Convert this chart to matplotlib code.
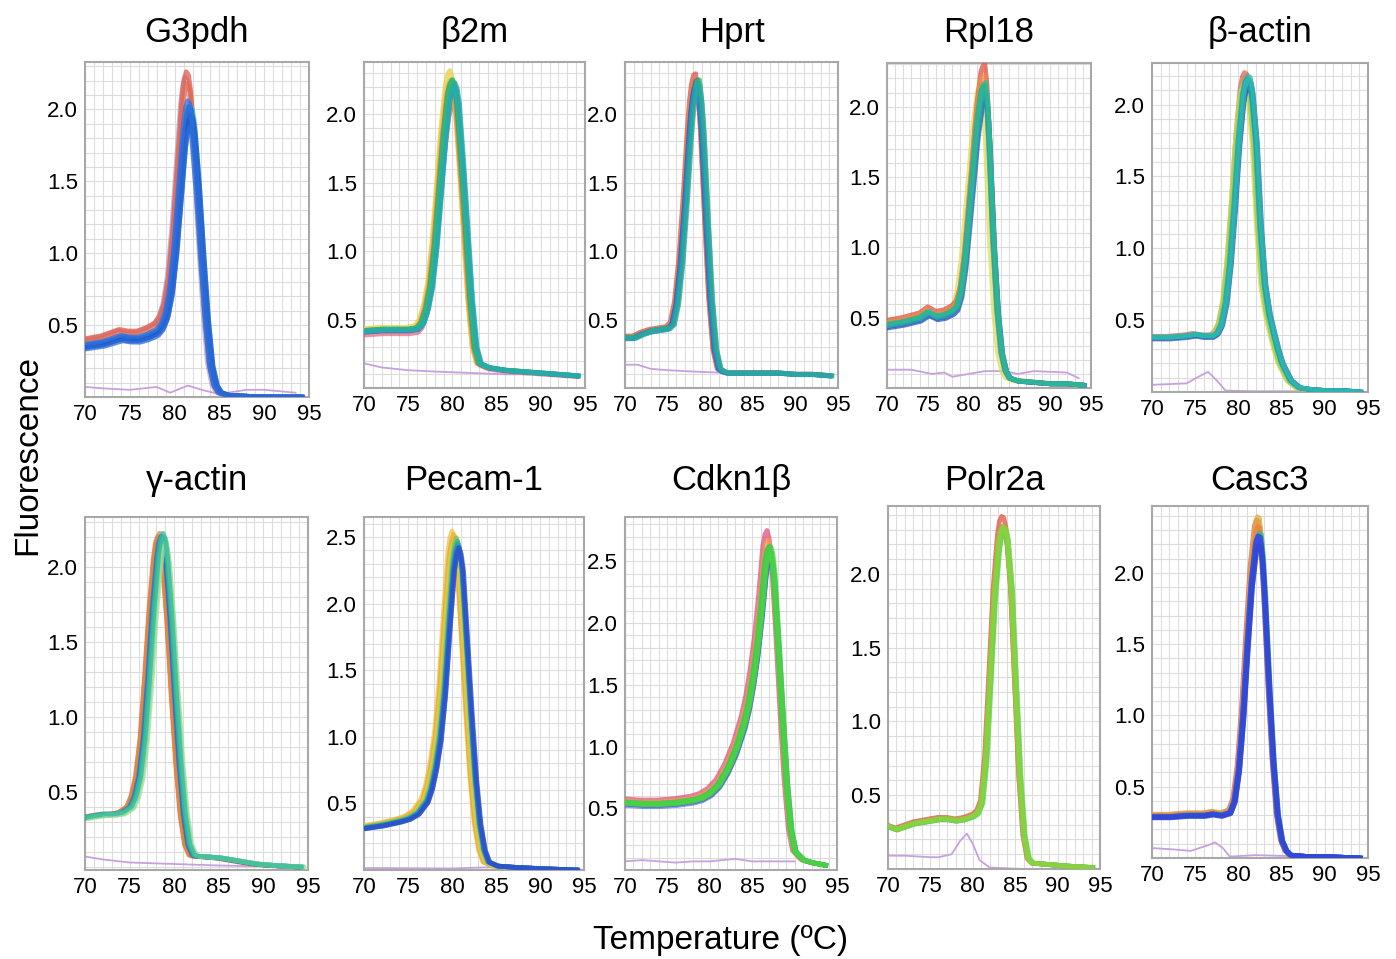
import matplotlib
matplotlib.use("Agg")
import matplotlib.pyplot as plt
import numpy as np

plt.rcParams['font.family'] = ['Liberation Sans', 'DejaVu Sans']

W, H = 1396, 959

genes = ["G3pdh", "β2m", "Hprt", "Rpl18", "β-actin",
         "γ-actin", "Pecam-1", "Cdkn1β", "Polr2a", "Casc3"]

# typical melt curve of each assay (temperature, -dF/dT)
g3pdh_t = [70, 71, 72, 73, 74, 75, 76, 77, 78, 78.5, 79, 79.5, 80, 80.5, 81, 81.25, 81.5, 81.75, 82, 82.5, 83, 83.5, 84, 84.5, 85, 86, 88, 90, 92, 94]
g3pdh_f = [0.36, 0.37, 0.38, 0.40, 0.42, 0.41, 0.41, 0.43, 0.46, 0.50, 0.58, 0.75, 1.05, 1.45, 1.85, 1.97, 2.02, 2.00, 1.90, 1.50, 1.00, 0.55, 0.22, 0.08, 0.03, 0.01, 0.005, 0.0, 0.0, 0.0]
b2m_t = [70, 72, 74, 75, 76, 76.5, 77, 77.5, 78, 78.5, 79, 79.5, 79.75, 80, 80.25, 80.5, 81, 81.5, 82, 82.5, 83, 84, 86, 88, 90, 92, 94]
b2m_f = [0.42, 0.43, 0.43, 0.43, 0.44, 0.48, 0.58, 0.75, 1.05, 1.45, 1.85, 2.15, 2.22, 2.25, 2.21, 2.10, 1.65, 1.15, 0.65, 0.30, 0.18, 0.15, 0.13, 0.12, 0.11, 0.10, 0.09]
hprt_t = [70, 71, 72, 73, 74, 75, 75.5, 76, 76.5, 77, 77.5, 77.75, 78, 78.25, 78.5, 78.75, 79, 79.5, 80, 80.5, 81, 81.5, 82, 84, 86, 88, 90, 92, 94]
hprt_f = [0.37, 0.37, 0.40, 0.42, 0.43, 0.44, 0.47, 0.62, 0.92, 1.35, 1.85, 2.05, 2.18, 2.24, 2.25, 2.12, 1.90, 1.25, 0.65, 0.28, 0.14, 0.12, 0.11, 0.11, 0.11, 0.11, 0.10, 0.10, 0.09]
rpl18_t = [70, 72, 74, 75, 76, 77, 78, 78.5, 79, 79.5, 80, 80.5, 81, 81.5, 81.75, 82, 82.25, 82.5, 83, 83.5, 84, 84.5, 85, 86, 88, 90, 92, 94]
rpl18_f = [0.45, 0.47, 0.50, 0.54, 0.51, 0.52, 0.55, 0.58, 0.68, 0.90, 1.22, 1.55, 1.88, 2.10, 2.14, 2.15, 2.02, 1.75, 1.05, 0.55, 0.25, 0.12, 0.07, 0.05, 0.04, 0.03, 0.03, 0.02]
bact_t = [70, 72, 74, 75, 76, 77, 77.5, 78, 78.5, 79, 79.5, 80, 80.5, 80.75, 81, 81.25, 81.5, 82, 82.5, 83, 83.5, 84, 84.5, 85, 86, 87, 88, 90, 92, 94]
bact_f = [0.38, 0.38, 0.39, 0.40, 0.39, 0.39, 0.41, 0.47, 0.62, 0.90, 1.30, 1.75, 2.07, 2.15, 2.18, 2.17, 2.10, 1.75, 1.15, 0.75, 0.55, 0.42, 0.30, 0.20, 0.08, 0.03, 0.02, 0.01, 0.01, 0.0]
gact_t = [70, 72, 73, 74, 75, 75.5, 76, 76.5, 77, 77.5, 78, 78.25, 78.5, 78.75, 79, 79.5, 80, 80.5, 81, 81.5, 82, 82.5, 83, 85, 87, 89, 91, 94]
gact_f = [0.33, 0.35, 0.35, 0.36, 0.40, 0.47, 0.60, 0.85, 1.25, 1.70, 2.05, 2.16, 2.20, 2.16, 2.05, 1.65, 1.15, 0.70, 0.35, 0.15, 0.08, 0.07, 0.07, 0.06, 0.04, 0.02, 0.01, 0.0]
pecam_t = [70, 72, 74, 75, 76, 77, 77.5, 78, 78.5, 79, 79.5, 80, 80.25, 80.5, 80.75, 81, 81.5, 82, 82.5, 83, 83.5, 84, 85, 87, 90, 94]
pecam_f = [0.32, 0.34, 0.37, 0.39, 0.43, 0.52, 0.62, 0.78, 1.00, 1.35, 1.85, 2.30, 2.42, 2.47, 2.42, 2.30, 1.75, 1.20, 0.70, 0.35, 0.15, 0.06, 0.03, 0.02, 0.01, 0.0]
cdkn_t = [70, 72, 74, 76, 78, 79, 80, 81, 82, 83, 84, 84.5, 85, 85.5, 86, 86.5, 86.75, 87, 87.25, 87.5, 88, 88.5, 89, 89.5, 90, 91, 92, 93.5]
cdkn_f = [0.55, 0.54, 0.54, 0.55, 0.57, 0.59, 0.63, 0.70, 0.82, 0.98, 1.20, 1.35, 1.55, 1.80, 2.12, 2.50, 2.59, 2.62, 2.56, 2.40, 1.85, 1.25, 0.70, 0.32, 0.15, 0.08, 0.06, 0.04]
polr_t = [70, 71, 72, 73, 74, 75, 76, 77, 78, 79, 80, 80.5, 81, 81.5, 82, 82.5, 83, 83.25, 83.5, 83.75, 84, 84.5, 85, 85.5, 86, 86.5, 87, 89, 91, 94]
polr_f = [0.29, 0.27, 0.29, 0.31, 0.32, 0.33, 0.34, 0.34, 0.33, 0.34, 0.36, 0.38, 0.45, 0.75, 1.30, 1.85, 2.20, 2.29, 2.32, 2.31, 2.25, 1.90, 1.25, 0.62, 0.22, 0.07, 0.04, 0.03, 0.02, 0.01]
casc_t = [70, 72, 74, 76, 77, 78, 79, 79.5, 80, 80.5, 81, 81.5, 82, 82.25, 82.5, 82.75, 83, 83.5, 84, 84.5, 85, 85.5, 86, 88, 90, 94]
casc_f = [0.29, 0.29, 0.30, 0.30, 0.31, 0.30, 0.32, 0.40, 0.62, 1.00, 1.50, 1.95, 2.22, 2.26, 2.25, 2.10, 1.85, 1.22, 0.68, 0.30, 0.12, 0.05, 0.02, 0.01, 0.01, 0.0]

# no-template controls (purple traces)
g3pdh_ntc_t = [70, 72, 75, 78, 79.5, 81.5, 83, 85, 88, 90, 93.5]
g3pdh_ntc_f = [0.07, 0.06, 0.05, 0.07, 0.03, 0.08, 0.05, 0.02, 0.05, 0.05, 0.03]
b2m_ntc_t = [70, 72, 75, 78, 82, 86, 90, 94]
b2m_ntc_f = [0.18, 0.15, 0.13, 0.12, 0.11, 0.10, 0.10, 0.10]
hprt_ntc_t = [70, 71.5, 73, 75, 78, 82, 88, 94]
hprt_ntc_f = [0.17, 0.17, 0.14, 0.13, 0.12, 0.11, 0.11, 0.10]
rpl18_ntc_t = [70, 73, 75.5, 77, 78, 80, 82, 84.5, 86, 88, 92, 93.5]
rpl18_ntc_f = [0.13, 0.13, 0.10, 0.11, 0.08, 0.10, 0.12, 0.12, 0.10, 0.12, 0.11, 0.07]
bact_ntc_t = [70, 74, 75.5, 76.5, 77.5, 78.5, 82, 88, 94]
bact_ntc_f = [0.05, 0.06, 0.11, 0.14, 0.08, 0.01, 0.005, 0.005, 0.0]
gact_ntc_t = [70, 72, 75, 80, 85, 94]
gact_ntc_f = [0.07, 0.05, 0.03, 0.02, 0.01, 0.0]
pecam_ntc_t = [70, 80, 84, 90, 94]
pecam_ntc_f = [0.015, 0.012, 0.02, 0.012, 0.01]
cdkn_ntc_t = [70, 72, 74, 76, 78, 80, 83, 85, 88, 90]
cdkn_ntc_f = [0.07, 0.08, 0.07, 0.06, 0.07, 0.07, 0.09, 0.07, 0.07, 0.07]
polr_ntc_t = [70, 72, 75, 76, 77.5, 78.5, 79.3, 80, 80.8, 82, 86, 94]
polr_ntc_f = [0.09, 0.09, 0.08, 0.08, 0.10, 0.19, 0.24, 0.17, 0.06, 0.01, 0.0, 0.0]
casc_ntc_t = [70, 72.5, 74.5, 76.5, 77.3, 78.2, 79, 82, 88, 94]
casc_ntc_f = [0.07, 0.06, 0.05, 0.09, 0.11, 0.07, 0.01, 0.02, 0.01, 0.0]

# replicate traces: colour, Tm offset (C), height factor
g3pdh_rep_c = ['#b0a8d8', '#e05a4a', '#e86a50', '#f0a060', '#40c070', '#30c8c0', '#20b0e0', '#2a70d8', '#2060d0', '#1f55c8', '#3070e0', '#2868d8']
g3pdh_rep_dt = [-0.35, -0.2, -0.1, 0.0, 0.15, 0.25, 0.1, -0.1, 0.1, 0.3, -0.05, 0.2]
g3pdh_rep_k = [1.1, 1.12, 1.08, 1.0, 1.0, 1.0, 0.98, 0.95, 1.0, 0.97, 1.02, 0.93]
b2m_rep_c = ['#e07080', '#f0a030', '#e8d040', '#f07a40', '#6090e0', '#3050c0', '#20a0a0', '#30b890', '#30c060', '#20b0c0', '#2aa8a8']
b2m_rep_dt = [0.1, -0.25, -0.3, -0.15, 0.05, 0.15, -0.05, 0.15, 0.05, 0.25, 0.3]
b2m_rep_k = [0.92, 1.0, 1.03, 0.99, 0.98, 0.97, 1.0, 0.99, 1.0, 0.98, 0.99]
hprt_rep_c = ['#e05040', '#f08040', '#3050c0', '#2a6ad0', '#30c060', '#20b0a0', '#2090c0', '#30a8a0']
hprt_rep_dt = [-0.2, -0.15, -0.05, 0.05, 0.25, 0.15, 0.05, 0.3]
hprt_rep_k = [1.02, 1.0, 0.98, 1.0, 1.0, 0.99, 0.97, 0.98]
rpl18_rep_c = ['#d8e060', '#e05040', '#f09040', '#c060a0', '#40c070', '#3060c8', '#2a50c0', '#20a8a0', '#28b0b0', '#30b890']
rpl18_rep_dt = [-0.45, 0.0, -0.1, 0.15, 0.0, 0.1, 0.2, -0.05, 0.15, 0.1]
rpl18_rep_k = [1.0, 1.07, 1.03, 0.98, 1.0, 0.97, 0.95, 1.0, 0.98, 1.01]
bact_rep_c = ['#e06050', '#f09040', '#d8d850', '#90d860', '#40c070', '#30b8a0', '#2a60d0', '#3050c0', '#20a8a8', '#30c0b0']
bact_rep_dt = [-0.3, -0.15, -0.4, -0.25, 0.0, 0.1, 0.1, 0.2, -0.05, 0.15]
bact_rep_k = [1.02, 1.0, 0.98, 0.99, 1.0, 1.01, 0.97, 0.99, 1.0, 1.0]
gact_rep_c = ['#e06040', '#f08030', '#d09040', '#2a70d0', '#2060c8', '#30a0c0', '#40c070', '#70d880', '#a0e0a0', '#30b8a0']
gact_rep_dt = [-0.35, -0.3, -0.15, 0.0, 0.1, 0.15, 0.3, 0.4, 0.5, 0.25]
gact_rep_k = [1.0, 0.99, 1.01, 1.0, 0.99, 1.0, 0.99, 1.0, 0.98, 1.01]
pecam_rep_c = ['#f0c040', '#f0a030', '#e8b040', '#d8d050', '#80c840', '#30b0a0', '#20a0b0', '#2a70d8', '#2060d0', '#3050c8']
pecam_rep_dt = [-0.5, -0.4, -0.3, -0.25, 0.0, 0.1, 0.15, 0.15, 0.25, 0.3]
pecam_rep_k = [1.03, 1.0, 1.02, 1.0, 1.01, 1.0, 0.99, 0.98, 0.97, 0.98]
cdkn_rep_c = ['#e05080', '#f0a040', '#d8c040', '#6080e0', '#3060c0', '#30a0b0', '#50c050', '#40d040', '#50d840', '#48d048']
cdkn_rep_dt = [-0.25, -0.1, 0.0, 0.15, 0.2, 0.05, -0.05, 0.05, 0.15, 0.2]
cdkn_rep_k = [1.05, 1.02, 1.0, 0.95, 0.97, 1.0, 1.0, 0.99, 0.98, 1.0]
polr_rep_c = ['#e05040', '#e08040', '#30a0c0', '#c0a040', '#a0c040', '#80d040', '#60d040', '#70d850', '#90d040']
polr_rep_dt = [-0.1, 0.0, 0.05, -0.05, 0.05, 0.15, 0.1, 0.2, 0.0]
polr_rep_k = [1.03, 1.0, 0.98, 1.0, 0.99, 1.0, 0.98, 0.99, 1.0]
casc_rep_c = ['#e05050', '#e0b040', '#f08040', '#30c080', '#20a0d0', '#3060d8', '#3040d0', '#4040d8', '#3a50e0', '#3048d0']
casc_rep_dt = [-0.15, -0.05, 0.0, 0.15, 0.1, -0.05, 0.05, 0.15, 0.0, 0.1]
casc_rep_k = [1.05, 1.06, 1.03, 1.01, 1.0, 0.99, 1.0, 0.98, 1.0, 0.97]

y_ticks = [[0.5, 1.0, 1.5, 2.0]] * 6 + [[0.5, 1.0, 1.5, 2.0, 2.5]] * 2 + [[0.5, 1.0, 1.5, 2.0]] * 2
y_lims = [(0, 2.33), (0.1, 2.38), (0.1, 2.38), (0.02, 2.31), (0, 2.29),
          (-0.02, 2.33), (0, 2.65), (0.035, 2.86), (0, 2.46), (0, 2.47)]

curves_t = [g3pdh_t, b2m_t, hprt_t, rpl18_t, bact_t, gact_t, pecam_t, cdkn_t, polr_t, casc_t]
curves_f = [g3pdh_f, b2m_f, hprt_f, rpl18_f, bact_f, gact_f, pecam_f, cdkn_f, polr_f, casc_f]
ntc_t = [g3pdh_ntc_t, b2m_ntc_t, hprt_ntc_t, rpl18_ntc_t, bact_ntc_t, gact_ntc_t, pecam_ntc_t, cdkn_ntc_t, polr_ntc_t, casc_ntc_t]
ntc_f = [g3pdh_ntc_f, b2m_ntc_f, hprt_ntc_f, rpl18_ntc_f, bact_ntc_f, gact_ntc_f, pecam_ntc_f, cdkn_ntc_f, polr_ntc_f, casc_ntc_f]
rep_c = [g3pdh_rep_c, b2m_rep_c, hprt_rep_c, rpl18_rep_c, bact_rep_c, gact_rep_c, pecam_rep_c, cdkn_rep_c, polr_rep_c, casc_rep_c]
rep_dt = [g3pdh_rep_dt, b2m_rep_dt, hprt_rep_dt, rpl18_rep_dt, bact_rep_dt, gact_rep_dt, pecam_rep_dt, cdkn_rep_dt, polr_rep_dt, casc_rep_dt]
rep_k = [g3pdh_rep_k, b2m_rep_k, hprt_rep_k, rpl18_rep_k, bact_rep_k, gact_rep_k, pecam_rep_k, cdkn_rep_k, polr_rep_k, casc_rep_k]

# panel boxes in pixels: left, top, right, bottom
boxes = [(85, 62, 309, 397), (364, 62, 585, 388), (625, 62, 838, 388), (887, 63, 1091, 388), (1152, 63, 1368, 392),
         (85, 517, 308, 870), (364, 517, 584, 870), (625, 517, 837, 870), (888, 506, 1100, 869), (1152, 506, 1368, 858)]
title_y = [42] * 5 + [490] * 5

fig = plt.figure(figsize=(W / 100, H / 100), dpi=100)

for i, gene in enumerate(genes):
    l, t, r, b = boxes[i]
    ax = fig.add_axes([l / W, 1 - b / H, (r - l) / W, (b - t) / H])
    ax.set_xlim(70, 95)
    ax.set_ylim(*y_lims[i])
    ax.set_xticks(range(70, 96, 5))
    ax.set_xticks(range(70, 96), minor=True)
    ax.set_yticks(y_ticks[i])
    ax.set_yticks(np.arange(0, y_lims[i][1], 0.1), minor=True)
    ax.set_yticklabels([f"{v:.1f}" for v in y_ticks[i]])
    ax.grid(True, which='both', color='#dcdcdc', lw=0.8)
    ax.set_axisbelow(True)
    ax.tick_params(which='both', length=0, pad=5, labelsize=16)
    for s in ax.spines.values():
        s.set_color('#a8a8a8')
        s.set_linewidth(1.5)

    ax.plot(ntc_t[i], ntc_f[i], color='#c8a0e0', lw=1.3, zorder=2)
    t_arr = np.array(curves_t[i])
    f_arr = np.array(curves_f[i])
    for c, dt, k in zip(rep_c[i], rep_dt[i], rep_k[i]):
        ax.plot(t_arr + dt, f_arr * k, color=c, lw=3.4, alpha=0.75,
                solid_joinstyle='round', zorder=3)

    fig.text((l + r) / 2 / W, 1 - title_y[i] / H, gene, ha='center', va='baseline', fontsize=25)

fig.text(28 / W, 1 - 455 / H, 'Fluorescence', rotation=90, ha='center', va='center', fontsize=24)
fig.text(721 / W, 1 - 940 / H, 'Temperature (ºC)', ha='center', va='center', fontsize=24)

fig.savefig('out.png', dpi=100)
